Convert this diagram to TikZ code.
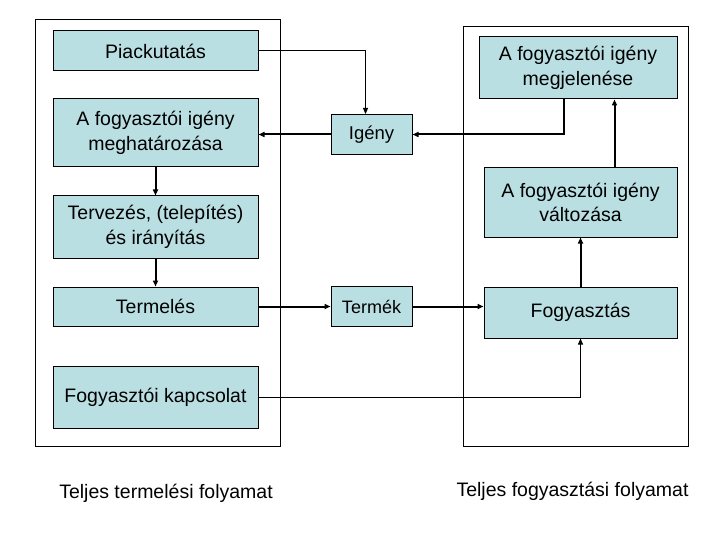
\documentclass[tikz,border=0pt]{standalone}
\usepackage{fontspec}
\setmainfont{Liberation Sans}
\usetikzlibrary{arrows.meta}
\definecolor{boxfill}{RGB}{186,223,227}
\begin{document}
\begin{tikzpicture}[x=1pt,y=-1pt,
  box/.style={draw=black, line width=1pt, fill=boxfill, inner sep=0pt, align=center, font=\fontsize{19.5}{24.5}\selectfont},
  frame/.style={draw=black, line width=0.9pt, inner sep=0pt},
  lbl/.style={inner sep=0pt, font=\fontsize{19.5}{24}\selectfont},
  thickarrow/.style={line width=2pt, -{Triangle[length=6pt,width=5pt]}},
  thinarrow/.style={line width=1pt, -{Triangle[length=6pt,width=5pt]}},
]
\useasboundingbox (0,0) rectangle (720,540);
\fill[white] (0,0) rectangle (720,540);

% frames
\node[frame, minimum width=245pt, minimum height=427pt] (lframe) at (157.5,232.5) {};
\node[frame, minimum width=225pt, minimum height=420pt] (rframe) at (575.5,236) {};

% left column
\node[box, minimum width=205pt, minimum height=40pt] (piac) at (155.5,51) {Piackutatás};
\node[box, minimum width=205pt, minimum height=68pt] (meghat) at (155.5,133) {A fogyasztói igény\\meghatározása};
\node[box, minimum width=205pt, minimum height=62pt] (terv) at (155.5,227) {Tervezés, (telepítés)\\és irányítás};
\node[box, minimum width=205pt, minimum height=39pt] (termeles) at (155.5,306.5) {Termelés};
\node[box, minimum width=205pt, minimum height=62pt] (kapcs) at (155.5,397) {Fogyasztói kapcsolat};

% middle
\node[box, minimum width=81pt, minimum height=40pt, font=\fontsize{18.5}{22}\selectfont] (igeny) at (371.5,134.5) {Igény};
\node[box, minimum width=81pt, minimum height=40pt, font=\fontsize{18}{22}\selectfont] (termek) at (371.5,306.5) {Termék};

% right column
\node[box, minimum width=198pt, minimum height=62pt] (megj) at (578,68) {A fogyasztói igény\\megjelenése};
\node[box, minimum width=193pt, minimum height=69pt] (valt) at (580.5,202.5) {A fogyasztói igény\\változása};
\node[box, minimum width=193pt, minimum height=51pt] (fogy) at (580.5,312.5) {Fogyasztás};

% labels
\node[lbl] (tl) at (166,493) {Teljes termelési folyamat};
\node[lbl] (tf) at (572.5,491) {Teljes fogyasztási folyamat};

% connectors
\draw[thinarrow] (piac.east) -| ([xshift=-6pt]igeny.north);
\draw[thickarrow] ([xshift=-14pt]megj.south) |- (igeny.east);
\draw[thickarrow] (igeny.west) -- (igeny.west -| meghat.east);
\draw[thickarrow] (meghat.south) -- (terv.north);
\draw[thickarrow] (terv.south) -- (termeles.north);
\draw[thickarrow] (termeles.east) -- (termeles.east -| termek.west);
\draw[thickarrow] (termek.east) -- (termek.east -| fogy.west);
\draw[thickarrow] (fogy.north) -- (valt.south);
\draw[thickarrow] ([xshift=34pt]valt.north) -- ([xshift=34pt]valt.north |- megj.south);
\draw[thinarrow] (kapcs.east) -| (fogy.south);
\end{tikzpicture}
\end{document}
